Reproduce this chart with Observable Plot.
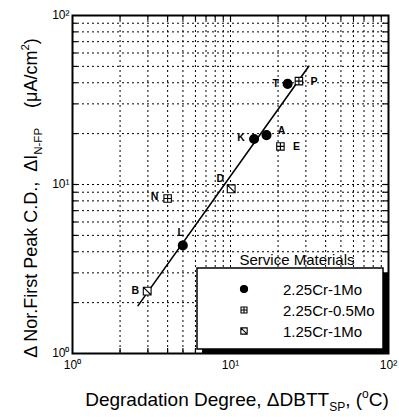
<!DOCTYPE html>
<html><head><meta charset="utf-8">
<script src="https://cdn.jsdelivr.net/npm/d3@7"></script>
<script src="https://cdn.jsdelivr.net/npm/@observablehq/plot@0.6"></script>
<style>body{margin:0;background:#fff} svg{font-family:"Liberation Sans",Arial,sans-serif}</style>
</head><body><div id="chart"></div>
<script>
// ---- data ----
const pointNames = ["T", "P", "K", "A", "E", "D", "N", "L", "B"];
const xVals = [23.0, 27.1, 14.1, 16.9, 20.7, 10.1, 4.0, 4.99, 2.97];
const yVals = [39.4, 40.9, 18.6, 19.6, 16.8, 9.43, 8.26, 4.36, 2.34];
const materials = ["2.25Cr-1Mo", "2.25Cr-0.5Mo", "2.25Cr-1Mo", "2.25Cr-1Mo", "2.25Cr-0.5Mo",
                   "1.25Cr-1Mo", "2.25Cr-0.5Mo", "2.25Cr-1Mo", "1.25Cr-1Mo"];
const seriesNames = ["2.25Cr-1Mo", "2.25Cr-0.5Mo", "1.25Cr-1Mo"];
const fitX = [2.6, 31.3];
const fitY = [1.92, 50.1];
const majorTicks = [1, 10, 100];
const gridVals = [2, 3, 4, 5, 6, 7, 8, 9, 10, 20, 30, 40, 50, 60, 70, 80, 90];
const legendTitle = "Service Materials";

// ---- label placement (pixels) ----
const labelOffset = {T: [-12, 0], P: [15, 1], K: [-13, -1], A: [15, -4], E: [16, 0],
                     D: [-11, -10], N: [-13, -2], L: [-2, -13], B: [-12, 0]};

const W = 399, H = 417, mL = 72, mR = 11, mT = 15, mB = 64;
const pw = W - mL - mR, ph = H - mT - mB;

const points = pointNames.map((n, i) => ({name: n, x: xVals[i], y: yVals[i], mat: materials[i]}));
const fit = fitX.map((x, i) => ({x, y: fitY[i]}));

const squarePlus = {draw(c, size) {
  const h = Math.sqrt(size) / 2;
  c.moveTo(-h, -h); c.lineTo(h, -h); c.lineTo(h, h); c.lineTo(-h, h); c.closePath();
  c.moveTo(0, -h); c.lineTo(0, h); c.moveTo(-h, 0); c.lineTo(h, 0);
}};
const squareSlash = {draw(c, size) {
  const h = Math.sqrt(size) / 2;
  c.moveTo(-h, -h); c.lineTo(h, -h); c.lineTo(h, h); c.lineTo(-h, h); c.closePath();
  c.moveTo(-h, -h); c.lineTo(h, h);
}};
const sup = ["\u2070", "\u00b9", "\u00b2"];
const fmt = d => "10" + sup[Math.round(Math.log10(d))];

const dotted = {stroke: "black", strokeWidth: 1, strokeDasharray: "2,3"};

const chart = Plot.plot({
  width: W, height: H, marginLeft: mL, marginRight: mR, marginTop: mT, marginBottom: mB,
  style: {fontFamily: "Liberation Sans, Arial, sans-serif", fontSize: "12px", color: "black", background: "white"},
  x: {type: "log", domain: [1, 100], label: null},
  y: {type: "log", domain: [1, 100], label: null},
  marks: [
    Plot.ruleX(gridVals, dotted),
    Plot.ruleY(gridVals, dotted),
    Plot.ruleX(gridVals, {stroke: "black", strokeWidth: 1.2, insetTop: ph - 5}),
    Plot.ruleX(gridVals, {stroke: "black", strokeWidth: 1.2, insetBottom: ph - 5}),
    Plot.ruleY(gridVals, {stroke: "black", strokeWidth: 1.2, insetRight: pw - 5}),
    Plot.ruleY(gridVals, {stroke: "black", strokeWidth: 1.2, insetLeft: pw - 5}),
    Plot.line(fit, {x: "x", y: "y", stroke: "black", strokeWidth: 1.6}),
    Plot.dot(points.filter(d => d.mat === seriesNames[0]), {x: "x", y: "y", symbol: "circle", r: 4.3, fill: "black", stroke: "black"}),
    Plot.dot(points.filter(d => d.mat === seriesNames[1]), {x: "x", y: "y", symbol: squarePlus, r: 4.2, fill: "white", stroke: "black", strokeWidth: 1.1}),
    Plot.dot(points.filter(d => d.mat === seriesNames[2]), {x: "x", y: "y", symbol: squareSlash, r: 4.4, fill: "white", stroke: "black", strokeWidth: 1.1}),
    ...points.map(p => Plot.text([p], {x: "x", y: "y", text: "name", dx: labelOffset[p.name][0], dy: labelOffset[p.name][1],
      fontSize: 10.5, fontWeight: "bold", fill: "black"})),
    Plot.frame({stroke: "black", strokeWidth: 2}),
    Plot.axisX(majorTicks, {tickFormat: fmt, tickSize: 0, tickPadding: 7, fontSize: 12}),
    Plot.axisY(majorTicks, {tickFormat: fmt, tickSize: 0, tickPadding: 3, fontSize: 12})
  ]
});
document.getElementById("chart").append(chart);

// ---- legend & axis titles ----
const svg = d3.select(chart);
const lg = svg.append("g");
const bx = 197, by = 268, bw = 186, bh = 81;
lg.append("rect").attr("x", bx + 5).attr("y", by + 5).attr("width", bw).attr("height", bh).attr("fill", "black");
lg.append("rect").attr("x", bx).attr("y", by).attr("width", bw).attr("height", bh).attr("fill", "white").attr("stroke", "black").attr("stroke-width", 1.5);
lg.append("text").attr("x", 297).attr("y", 265).attr("text-anchor", "middle").attr("font-size", 15).attr("fill", "black").text(legendTitle);
const legSym = [d3.symbol().type(d3.symbolCircle).size(40), d3.symbol().type(squarePlus).size(36), d3.symbol().type(squareSlash).size(40)];
const legFill = ["black", "white", "white"];
seriesNames.forEach((s, i) => {
  const yy = 289 + i * 21;
  lg.append("path").attr("d", legSym[i]()).attr("transform", `translate(244,${yy})`)
    .attr("fill", legFill[i]).attr("stroke", "black").attr("stroke-width", 1.1);
  lg.append("text").attr("x", 283).attr("y", yy + 6).attr("text-anchor", "start").attr("font-size", 15).attr("fill", "black").text(s);
});

const xt = svg.append("text").attr("x", 237).attr("y", 406).attr("text-anchor", "middle").attr("font-size", 19).attr("fill", "black");
xt.append("tspan").text("Degradation Degree, \u0394DBTT");
xt.append("tspan").attr("font-size", 12).attr("dy", 5).text("SP");
xt.append("tspan").attr("dy", -5).text(", (");
xt.append("tspan").attr("font-size", 12).attr("dy", -8).text("o");
xt.append("tspan").attr("dy", 8).text("C)");

const yt = svg.append("text").attr("transform", "translate(37,198) rotate(-90)").attr("text-anchor", "middle")
  .attr("font-size", 18).attr("fill", "black").style("white-space", "pre");
yt.append("tspan").text("\u0394 Nor.First Peak C.D.,  \u0394I");
yt.append("tspan").attr("font-size", 11.5).attr("dy", 5).text("N-FP");
yt.append("tspan").attr("dy", -5).text("    (\u03bcA/cm");
yt.append("tspan").attr("font-size", 11.5).attr("dy", -8).text("2");
yt.append("tspan").attr("dy", 8).text(")");
</script></body></html>
